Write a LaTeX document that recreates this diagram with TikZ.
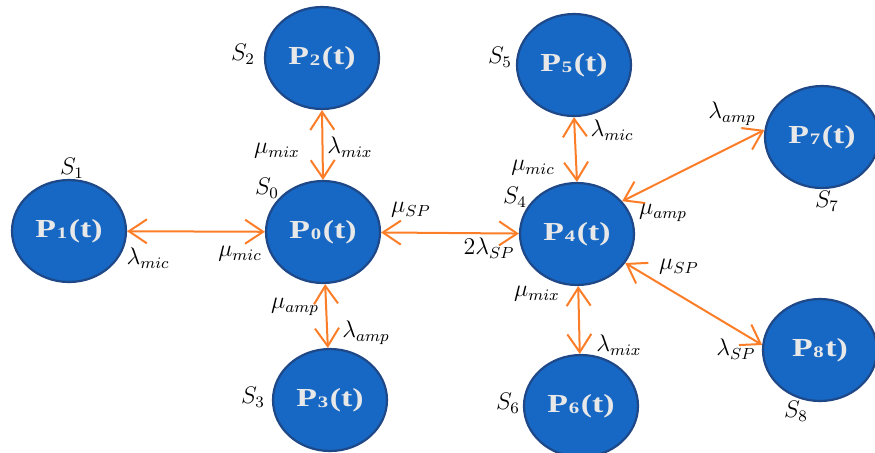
\documentclass[tikz,border=0pt]{standalone}
\usepackage{fontspec}
\setmainfont{Liberation Serif}
\usetikzlibrary{arrows.meta,shapes.geometric}
\definecolor{nodefill}{RGB}{22,104,196}
\definecolor{nodeline}{RGB}{30,72,135}
\definecolor{arrorange}{RGB}{252,125,40}
\definecolor{ptext}{RGB}{232,232,232}
\tikzset{
  stnode/.style={ellipse, draw=nodeline, line width=1.1pt, fill=nodefill,
    minimum width=57pt, minimum height=51pt, inner sep=0pt,
    text=ptext, font=\fontsize{13}{15}\selectfont\bfseries},
  trans/.style={draw=arrorange, line width=1pt,
    {Straight Barb[length=9pt,width=12pt]}-{Straight Barb[length=9pt,width=12pt]}},
  lab/.style={inner sep=0pt, font=\fontsize{12}{14}\selectfont},
}
\newcommand{\ptxt}[1]{\scalebox{1.3}[1]{P\kern0.3pt\raisebox{-0.6pt}{\fontsize{8}{8}\selectfont #1}\kern0.6pt(t)}}
\begin{document}
\begin{tikzpicture}[x=0.5pt,y=-0.5pt]
\useasboundingbox (0,0) rectangle (875,452);
% nodes
\node[stnode] (P1) at (69,231) {\ptxt{1}};
\node[stnode] (P0) at (323,232) {\ptxt{0}};
\node[stnode] (P2) at (322,58) {\ptxt{2}};
\node[stnode] (P3) at (330,400) {\ptxt{3}};
\node[stnode] (P5) at (574,65) {\ptxt{5}};
\node[stnode] (P4) at (577,234) {\ptxt{4}};
\node[stnode] (P6) at (581,406) {\ptxt{6}};
\node[stnode] (P7) at (822,137) {\ptxt{7}};
\node[stnode] (P8) at (820,350) {\scalebox{1.3}[1]{P\kern0.3pt\raisebox{-0.6pt}{\fontsize{8}{8}\selectfont 8}\kern0.6pt t)}};
% connectors
\draw[trans] (P1) -- (P0);
\draw[trans] (P2.south) -- (P0.north);
\draw[trans] (P0) -- (P3);
\draw[trans] (P0) -- (P4);
\draw[trans] (P5.south) -- (P4.north);
\draw[trans] (P4) -- (P6);
\draw[trans] (P4.36) -- (P7.173);
\draw[trans] (P4.-31) -- (P8.175);
% state labels
\node[lab] (s1) at (72,168) {$S_1$};
\node[lab] (s0) at (267,188) {$S_0$};
\node[lab] (s2) at (243,54) {$S_2$};
\node[lab] (s3) at (253,397) {$S_3$};
\node[lab] (s5) at (500,57) {$S_5$};
\node[lab] (s4) at (515,197) {$S_4$};
\node[lab] (s6) at (508,403) {$S_6$};
\node[lab] (s7) at (827,201) {$S_7$};
\node[lab] (s8) at (796,411) {$S_8$};
% rate labels
\node[lab] (l1) at (148,258) {$\lambda_{mic}$};
\node[lab] (m1) at (240,254) {$\mu_{mic}$};
\node[lab] (m2) at (277,151) {$\mu_{mix}$};
\node[lab] (l2) at (350,147) {$\lambda_{mix}$};
\node[lab] (m3) at (295,307) {$\mu_{amp}$};
\node[lab] (l3) at (366,333) {$\lambda_{amp}$};
\node[lab] (m4) at (411,210) {$\mu_{SP}$};
\node[lab] (l4) at (489,248) {$2\lambda_{SP}$};
\node[lab] (l5) at (612,130) {$\lambda_{mic}$};
\node[lab] (m5) at (533,168) {$\mu_{mic}$};
\node[lab] (l7) at (732,114) {$\lambda_{amp}$};
\node[lab] (m7) at (663,213) {$\mu_{amp}$};
\node[lab] (m8) at (679,267) {$\mu_{SP}$};
\node[lab] (l8) at (736,349) {$\lambda_{SP}$};
\node[lab] (m6) at (537,294) {$\mu_{mix}$};
\node[lab] (l6) at (619,345) {$\lambda_{mix}$};
\end{tikzpicture}
\end{document}
